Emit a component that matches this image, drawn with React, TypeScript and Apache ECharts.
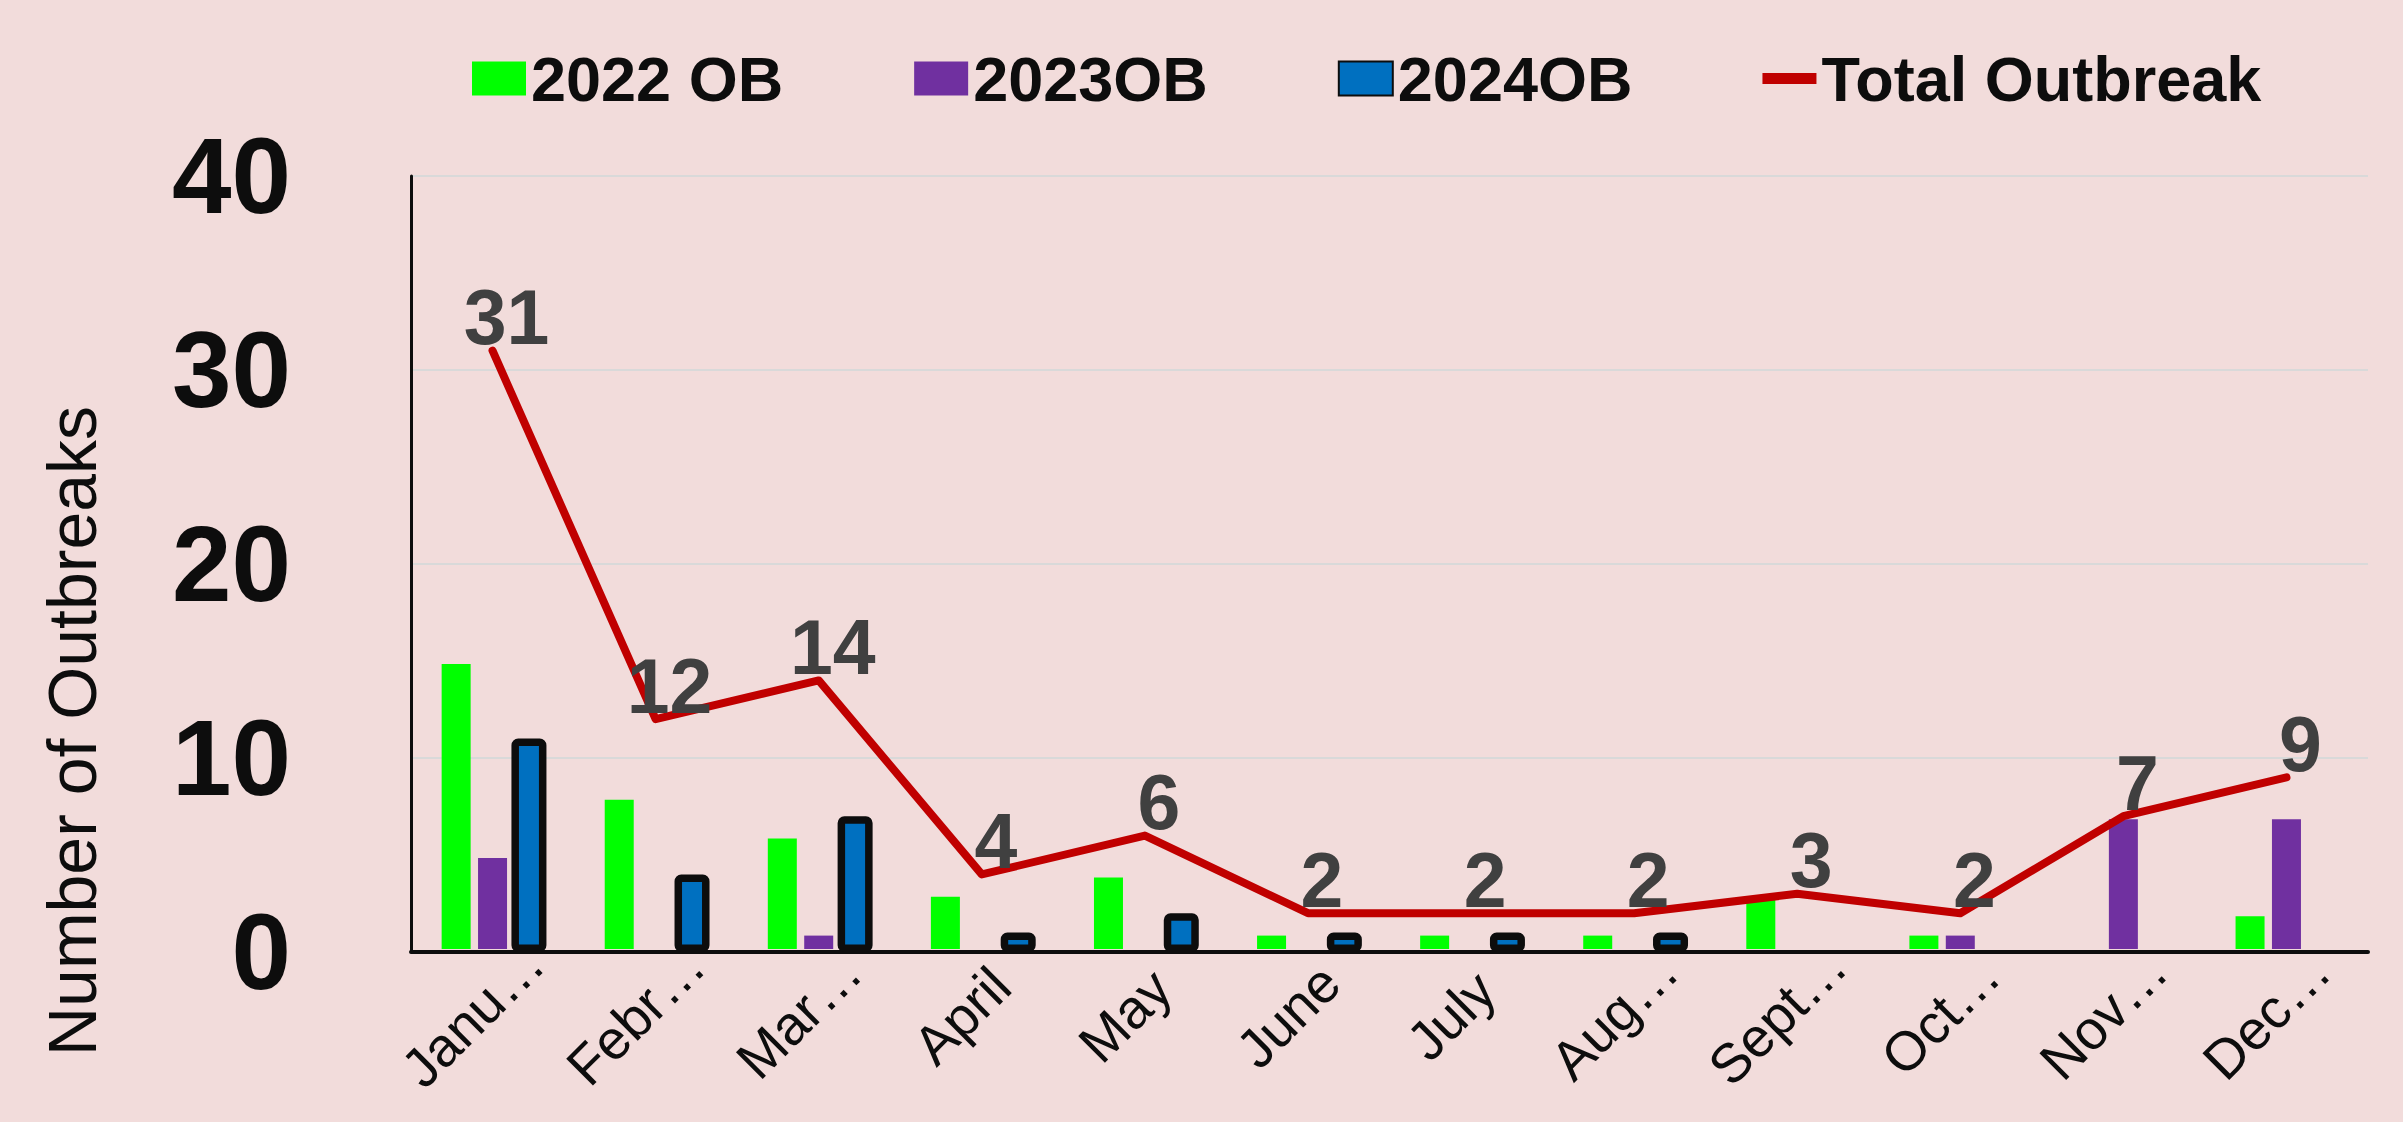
import React, { useEffect, useRef } from "react";
import * as echarts from "echarts";

const months = ["Janu…", "Febr…", "Mar…", "April", "May", "June", "July", "Aug…", "Sept…", "Oct…", "Nov…", "Dec…"];
const ob2022 = [15, 8, 6, 3, 4, 1, 1, 1, 3, 1, 0, 2];
const ob2023 = [5, 0, 1, 0, 0, 0, 0, 0, 0, 1, 7, 7];
const ob2024 = [11, 4, 7, 1, 2, 1, 1, 1, null, null, null, null];
const totalOutbreak = [31, 12, 14, 4, 6, 2, 2, 2, 3, 2, 7, 9];
const yTicks = { min: 0, max: 40, interval: 10 };
const yAxisTitle = "Number of Outbreaks";

const FONT = "'Liberation Sans', Arial, Helvetica, sans-serif";

export default function App() {
  const ref = useRef<HTMLDivElement>(null);
  useEffect(() => {
    if (!ref.current) return;
    const chart = echarts.init(ref.current, null, { renderer: "svg" });
    const barBase = {
      type: "bar",
      barWidth: 35,
      barGap: "4%",
    };
    chart.setOption({
      animation: false,
      backgroundColor: "#F2DCDB",
      textStyle: { fontFamily: FONT },
      legend: {
        left: 466,
        top: 42,
        itemWidth: 54,
        itemHeight: 34,
        itemGap: 130,
        textStyle: { fontSize: 63, fontWeight: "bold", color: "#0D0D0D", fontFamily: FONT },
        data: [
          { name: "2022 OB", icon: "rect" },
          { name: "2023OB", icon: "rect" },
          { name: "2024OB", icon: "rect" },
          { name: "Total Outbreak", icon: "path://M0,0L54,0L54,11L0,11Z" },
        ],
      },
      graphic: [
        {
          type: "text",
          x: 72,
          y: 731,
          rotation: Math.PI / 2,
          style: {
            text: yAxisTitle,
            fontSize: 68,
            fontFamily: FONT,
            fill: "#0D0D0D",
            align: "center",
            verticalAlign: "middle",
          },
        },
      ],
      grid: { left: 411, right: 35, top: 176, bottom: 170, containLabel: false, outerBoundsMode: "none" },
      xAxis: {
        type: "category",
        data: months,
        axisLine: { show: true, lineStyle: { color: "#0D0D0D", width: 4 } },
        axisTick: { show: false },
        axisLabel: {
          rotate: 45,
          interval: 0,
          margin: 44,
          align: "center",
          verticalAlign: "middle",
          padding: [0, 56, 56, 0],
          fontSize: 55,
          color: "#0D0D0D",
          fontFamily: FONT,
        },
      },
      yAxis: {
        type: "value",
        min: yTicks.min,
        max: yTicks.max,
        interval: yTicks.interval,
        axisLine: { show: true, lineStyle: { color: "#0D0D0D", width: 3 } },
        axisTick: { show: false },
        splitLine: { show: true, lineStyle: { color: "#D9D9D9", width: 2 } },
        axisLabel: {
          margin: 120,
          fontSize: 107,
          fontWeight: "bold",
          color: "#0D0D0D",
          fontFamily: FONT,
        },
      },
      series: [
        {
          ...barBase,
          name: "2022 OB",
          data: ob2022,
          itemStyle: { color: "#00FF00", borderColor: "rgba(0,0,0,0)", borderWidth: 6 },
        },
        {
          ...barBase,
          name: "2023OB",
          data: ob2023,
          itemStyle: { color: "#7030A0", borderColor: "rgba(0,0,0,0)", borderWidth: 6 },
        },
        {
          ...barBase,
          name: "2024OB",
          data: ob2024,
          itemStyle: { color: "#0070C0", borderColor: "#0D0D0D", borderWidth: 7.5, borderRadius: 3 },
        },
        {
          type: "line",
          name: "Total Outbreak",
          data: totalOutbreak,
          symbol: "circle",
          symbolSize: 2,
          showSymbol: true,
          itemStyle: { color: "#C00000" },
          lineStyle: { color: "#C00000", width: 8, cap: "round", join: "round" },
          label: {
            show: true,
            position: "top",
            distance: -6,
            offset: [14, 0],
            fontSize: 77,
            fontWeight: "bold",
            color: "#404040",
            fontFamily: FONT,
          },
          z: 5,
        },
      ],
    });
    return () => chart.dispose();
  }, []);
  return (
    <div
      ref={ref}
      style={{ position: "absolute", left: 0, top: 0, width: 2403, height: 1122, background: "#F2DCDB" }}
    />
  );
}
